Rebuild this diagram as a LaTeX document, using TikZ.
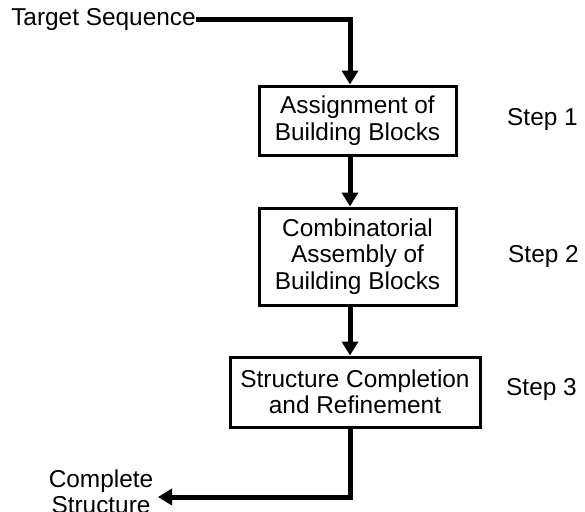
\documentclass[tikz,border=0pt]{standalone}
\usepackage{fontspec}
\setmainfont{Liberation Sans}
\usetikzlibrary{arrows.meta}
\begin{document}
\begin{tikzpicture}[x=1pt,y=-1pt,
  every node/.style={font=\fontsize{24.4}{26.5}\selectfont},
  procbox/.style={draw,line width=3pt,align=center,inner sep=0pt},
  label/.style={inner sep=0pt,align=center},
  flow/.style={line width=5pt,-{Triangle[length=14pt,width=16pt]}}]
\useasboundingbox (0,0) rectangle (585,511);
\node[label] (ts) at (103.5,20) {Target Sequence};
\node[procbox,minimum width=197pt,minimum height=69pt] (b1) at (357.5,120.5) {Assignment of\\Building Blocks};
\node[procbox,minimum width=197pt,minimum height=97pt] (b2) at (357.5,256.5) {Combinatorial\\Assembly of\\Building Blocks};
\node[procbox,minimum width=250pt,minimum height=70pt] (b3) at (355,392) {Structure Completion\\and Refinement};
\node[label,anchor=west] (s1) at (507,120) {Step 1};
\node[label,anchor=west] (s2) at (508,257) {Step 2};
\node[label,anchor=west] (s3) at (506,390) {Step 3};
\node[label] (out) at (101,492) {Complete\\Structure};
\coordinate (ax) at (350,0);
\coordinate (tip) at (158,497);
\draw[flow] (ts.east) -- (ax |- ts.east) -- (ax |- b1.north);
\draw[flow] (ax |- b1.south) -- (ax |- b2.north);
\draw[flow] (ax |- b2.south) -- (ax |- b3.north);
\draw[flow] (ax |- b3.south) -- (ax |- tip) -- (tip);
\end{tikzpicture}
\end{document}
